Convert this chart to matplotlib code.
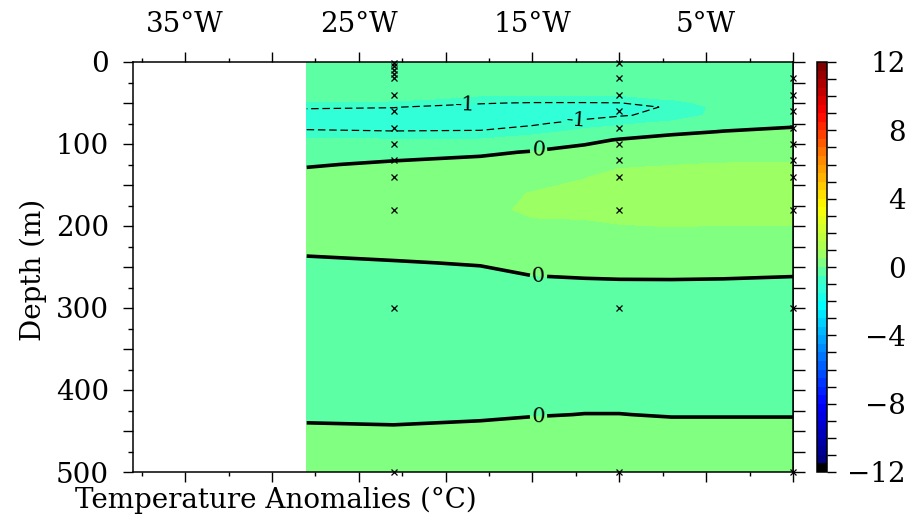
import numpy as np
import matplotlib
matplotlib.use("Agg")
import matplotlib.pyplot as plt
from matplotlib.colors import ListedColormap, BoundaryNorm, to_rgb
from matplotlib.ticker import FixedLocator, FixedFormatter, MultipleLocator, NullFormatter

plt.rcParams['font.family'] = ['DejaVu Serif']

# section grid (deg E, m)
lon = [-28, -23, -18, -15, -12, -10, -7, -4, 0]
depth = [0, 30, 45, 50, 55, 65, 75, 85, 95, 110, 125, 140, 160, 180, 200,
         220, 245, 270, 300, 400, 430, 445, 500]

# temperature anomaly profiles, one per longitude, top to bottom
prof_28w = [-0.20, -0.30, -0.45, -0.52, -0.95, -1.20, -1.15, -0.95, -0.40, -0.25, -0.03, 0.10,
            0.20, 0.25, 0.22, 0.10, -0.05, -0.15, -0.20, -0.12, -0.04, 0.02, 0.15]
prof_23w = [-0.20, -0.30, -0.45, -0.55, -0.98, -1.25, -1.20, -0.98, -0.45, -0.12, 0.05, 0.15,
            0.25, 0.30, 0.28, 0.15, -0.02, -0.15, -0.22, -0.12, -0.05, 0.01, 0.15]
prof_18w = [-0.20, -0.35, -0.55, -0.95, -1.20, -1.30, -1.25, -0.95, -0.45, -0.05, 0.10, 0.22,
            0.35, 0.42, 0.38, 0.25, 0.02, -0.12, -0.22, -0.10, -0.03, 0.03, 0.18]
prof_15w = [-0.20, -0.38, -0.55, -1.05, -1.30, -1.35, -1.10, -0.70, -0.20, 0.02, 0.15, 0.30,
            0.52, 0.55, 0.45, 0.32, 0.10, -0.06, -0.20, -0.10, -0.01, 0.05, 0.20]
prof_12w = [-0.20, -0.38, -0.55, -1.05, -1.30, -1.25, -0.75, -0.35, -0.08, 0.12, 0.30, 0.48,
            0.62, 0.62, 0.42, 0.28, 0.12, -0.04, -0.18, -0.07, 0.003, 0.06, 0.20]
prof_10w = [-0.20, -0.38, -0.55, -1.02, -1.25, -1.05, -0.60, -0.20, 0.02, 0.25, 0.45, 0.60,
            0.68, 0.66, 0.48, 0.30, 0.12, -0.03, -0.18, -0.07, 0.003, 0.06, 0.22]
prof_7w = [-0.20, -0.35, -0.48, -0.65, -0.92, -0.85, -0.35, -0.06, 0.10, 0.30, 0.49, 0.62,
           0.70, 0.68, 0.51, 0.32, 0.13, -0.03, -0.18, -0.08, -0.01, 0.04, 0.22]
prof_4w = [-0.20, -0.26, -0.28, -0.30, -0.30, -0.28, -0.12, 0.01, 0.15, 0.35, 0.52, 0.64,
           0.70, 0.68, 0.49, 0.32, 0.14, -0.04, -0.18, -0.08, -0.01, 0.04, 0.22]
prof_0 = [-0.20, -0.25, -0.25, -0.25, -0.25, -0.20, -0.05, 0.06, 0.18, 0.38, 0.53, 0.64,
          0.70, 0.68, 0.49, 0.30, 0.10, -0.05, -0.18, -0.08, -0.01, 0.04, 0.22]

# mooring sample depths
stn_lon = [-23, -10, 0]
stn_23w = [1, 5, 10, 15, 20, 40, 60, 80, 100, 120, 140, 180, 300, 500]
stn_10w = [1, 20, 40, 60, 80, 100, 120, 140, 180, 300, 500]
stn_0 = [20, 40, 60, 80, 100, 120, 140, 180, 300, 500]

xtick_lab = ['35°W', '', '25°W', '', '15°W', '', '5°W', '']
ytick_lab = ['0', '', '100', '', '200', '', '300', '', '400', '', '500']
cbar_lab = [-12, -8, -4, 0, 4, 8, 12]

anom = np.array([prof_28w, prof_23w, prof_18w, prof_15w, prof_12w,
                 prof_10w, prof_7w, prof_4w, prof_0]).T

# palette, 0.5 degree bands, black at the bottom
levels = np.arange(-12, 12.01, 0.5)
anch_v = [-11.75, -11.25, -8, -5, -2.25, -1.25, -0.75, -0.25, 0.25, 0.75, 3.5, 6.5, 9, 11.75]
anch_c = ['#000000', '#000080', '#0000ff', '#0080ff', '#00ffff', '#30ffd8', '#3cffc8',
          '#5cffa3', '#80ff80', '#9cff64', '#ffff00', '#ff8000', '#ff0000', '#800000']
rgb = np.array([to_rgb(c) for c in anch_c])
mids = (levels[:-1] + levels[1:]) / 2
cols = np.stack([np.interp(mids, anch_v, rgb[:, k]) for k in range(3)], axis=1)
cols[0] = 0
cmap = ListedColormap(cols)
norm = BoundaryNorm(levels, cmap.N)

fig = plt.figure(figsize=(9.2, 5.24), dpi=100)
ax = fig.add_axes([133/920, 52/524, 660/920, 410/524])
cax = fig.add_axes([817/920, 52/524, 10/920, 410/524])

cf = ax.contourf(lon, depth, anom, levels=levels, cmap=cmap, norm=norm)
c1 = ax.contour(lon, depth, anom, levels=[-1], colors='k', linewidths=0.9,
                linestyles=[(0, (6, 3))])
c0 = ax.contour(lon, depth, anom, levels=[0], colors='k', linewidths=2.6)
ax.clabel(c1, fmt='%d', fontsize=15, inline=True, manual=[(-18.9, 51), (-12.5, 77)])
ax.clabel(c0, fmt='%d', fontsize=15, inline=True,
          manual=[(-14.65, 107), (-14.65, 260), (-14.65, 433)])

for x, deps in zip(stn_lon, [stn_23w, stn_10w, stn_0]):
    ax.plot([x] * len(deps), deps, 'x', color='k', ms=4, mew=0.9, clip_on=False)

ax.set_xlim(-38, 0)
ax.set_ylim(500, 0)

ax.xaxis.set_major_locator(FixedLocator(np.arange(-35, 1, 5)))
ax.xaxis.set_major_formatter(FixedFormatter(xtick_lab))
ax.xaxis.set_minor_locator(FixedLocator(np.arange(-37.5, 0, 5)))
ax.tick_params(axis='x', which='both', top=True, bottom=True, labeltop=True,
               labelbottom=False, direction='out', labelsize=20, width=1, pad=10)
ax.tick_params(axis='x', which='major', length=7.2)
ax.tick_params(axis='x', which='minor', length=3)

ax.yaxis.set_major_locator(FixedLocator(np.arange(0, 501, 50)))
ax.yaxis.set_major_formatter(FixedFormatter(ytick_lab))
ax.yaxis.set_minor_locator(MultipleLocator(25))
ax.tick_params(axis='y', which='both', left=True, right=False, direction='out',
               labelsize=20, width=1, pad=10)
ax.tick_params(axis='y', which='major', length=7.2)
ax.tick_params(axis='y', which='minor', length=3.6)

sec = ax.secondary_yaxis('right')
sec.yaxis.set_major_locator(MultipleLocator(25))
sec.yaxis.set_major_formatter(NullFormatter())
sec.tick_params(direction='out', length=8.5, width=1)

for s in list(ax.spines.values()) + list(sec.spines.values()):
    s.set_linewidth(1.1)

cb = fig.colorbar(cf, cax=cax, ticks=cbar_lab)
cb.outline.set_linewidth(1.1)
cb.ax.minorticks_on()
cax.yaxis.set_minor_locator(MultipleLocator(1))
cax.tick_params(which='both', direction='out', length=6.5, width=1, labelsize=20, pad=50)
for t in cax.get_yticklabels():
    t.set_ha('right')

fig.text(75/920, 1 - 500/524, 'Temperature Anomalies (°C)', ha='left', va='center',
         fontsize=20)
fig.text(33/920, 1 - 270/524, 'Depth (m)', ha='center', va='center', rotation=90,
         fontsize=20)

fig.savefig('out.png', dpi=100)
